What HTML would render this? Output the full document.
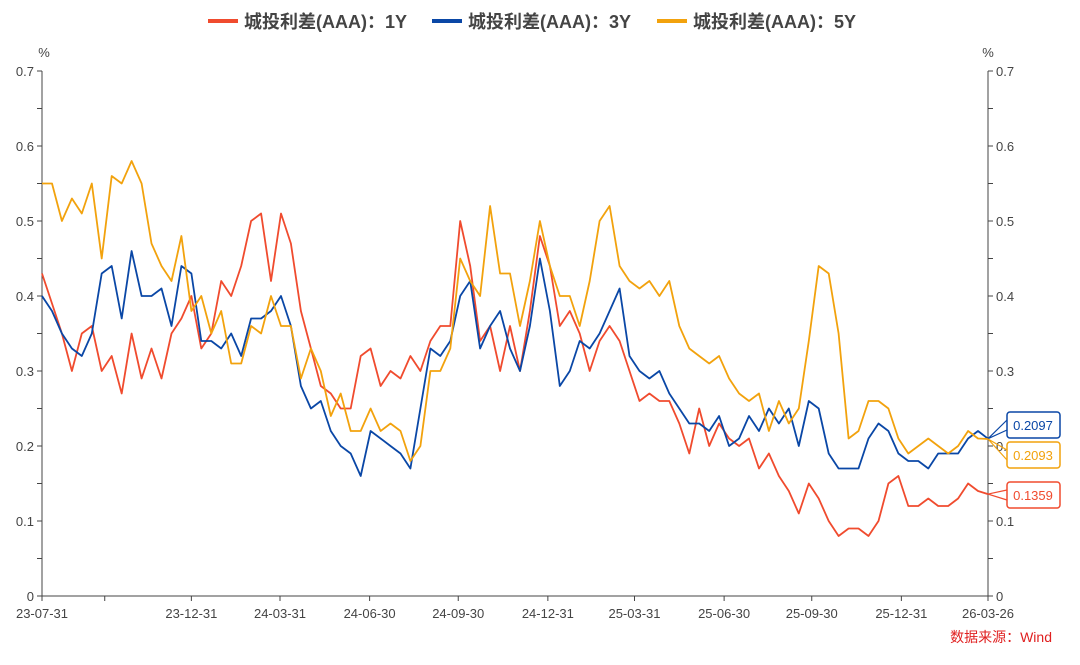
<!DOCTYPE html>
<html><head><meta charset="utf-8"><style>
body{margin:0;background:#fff;}
svg text{font-family:"Liberation Sans","Noto Sans CJK SC",sans-serif;}
</style></head><body>
<svg id="chart" width="1080" height="660" xmlns="http://www.w3.org/2000/svg">
<g id="legend"></g>
<g id="axes"></g>
<g id="series"></g>
<g id="callouts"></g>
<text x="1052" y="642" text-anchor="end" font-size="14" fill="#e02020">数据来源：Wind</text>
</svg>
<script>
const seriesNames=["城投利差(AAA)：1Y","城投利差(AAA)：3Y","城投利差(AAA)：5Y"];
const lastLabels=["0.1359","0.2097","0.2093"];
const xTickLabels=["23-07-31","23-12-31","24-03-31","24-06-30","24-09-30","24-12-31","25-03-31","25-06-30","25-09-30","25-12-31","26-03-26"];
const xTickIdx=[0,15,23.9,32.9,41.8,50.8,59.5,68.5,77.3,86.3,95];
const yTicks=[0,0.1,0.2,0.3,0.4,0.5,0.6,0.7];
const s1Y=[0.43,0.39,0.35,0.30,0.35,0.36,0.30,0.32,0.27,0.35,0.29,0.33,0.29,0.35,0.37,0.40,0.33,0.35,0.42,0.40,0.44,0.50,0.51,0.42,0.51,0.47,0.38,0.33,0.28,0.27,0.25,0.25,0.32,0.33,0.28,0.30,0.29,0.32,0.30,0.34,0.36,0.36,0.50,0.44,0.34,0.36,0.30,0.36,0.30,0.38,0.48,0.44,0.36,0.38,0.35,0.30,0.34,0.36,0.34,0.30,0.26,0.27,0.26,0.26,0.23,0.19,0.25,0.20,0.23,0.21,0.20,0.21,0.17,0.19,0.16,0.14,0.11,0.15,0.13,0.10,0.08,0.09,0.09,0.08,0.10,0.15,0.16,0.12,0.12,0.13,0.12,0.12,0.13,0.15,0.14,0.1359];
const s3Y=[0.40,0.38,0.35,0.33,0.32,0.35,0.43,0.44,0.37,0.46,0.40,0.40,0.41,0.36,0.44,0.43,0.34,0.34,0.33,0.35,0.32,0.37,0.37,0.38,0.40,0.36,0.28,0.25,0.26,0.22,0.20,0.19,0.16,0.22,0.21,0.20,0.19,0.17,0.25,0.33,0.32,0.34,0.40,0.42,0.33,0.36,0.38,0.33,0.30,0.36,0.45,0.38,0.28,0.30,0.34,0.33,0.35,0.38,0.41,0.32,0.30,0.29,0.30,0.27,0.25,0.23,0.23,0.22,0.24,0.20,0.21,0.24,0.22,0.25,0.23,0.25,0.20,0.26,0.25,0.19,0.17,0.17,0.17,0.21,0.23,0.22,0.19,0.18,0.18,0.17,0.19,0.19,0.19,0.21,0.22,0.2097];
const s5Y=[0.55,0.55,0.50,0.53,0.51,0.55,0.45,0.56,0.55,0.58,0.55,0.47,0.44,0.42,0.48,0.38,0.40,0.35,0.38,0.31,0.31,0.36,0.35,0.40,0.36,0.36,0.29,0.33,0.30,0.24,0.27,0.22,0.22,0.25,0.22,0.23,0.22,0.18,0.20,0.30,0.30,0.33,0.45,0.42,0.40,0.52,0.43,0.43,0.36,0.42,0.50,0.44,0.40,0.40,0.36,0.42,0.50,0.52,0.44,0.42,0.41,0.42,0.40,0.42,0.36,0.33,0.32,0.31,0.32,0.29,0.27,0.26,0.27,0.22,0.26,0.23,0.25,0.34,0.44,0.43,0.35,0.21,0.22,0.26,0.26,0.25,0.21,0.19,0.20,0.21,0.20,0.19,0.20,0.22,0.21,0.2093];
const colors=["#f04b2e","#0a47a6","#f2a20d"];
const allSeries=[s1Y,s3Y,s5Y];
const X0=42,X1=988,Y0=596,Y1=71,YMAX=0.7;
const N=s1Y.length;
function xs(i){return X0+i*(X1-X0)/(N-1);}
function ys(v){return Y0-(v/YMAX)*(Y0-Y1);}
const NS="http://www.w3.org/2000/svg";
function mk(tag,attrs,parent,txt){const e=document.createElementNS(NS,tag);for(const k in attrs)e.setAttribute(k,attrs[k]);if(txt!==undefined)e.textContent=txt;parent.appendChild(e);return e;}
const axes=document.getElementById('axes');
let e;
e=mk('line',{x1:X0,y1:Y1,x2:X0,y2:Y0,stroke:'#444'},axes);


e=mk('line',{x1:X1,y1:Y1,x2:X1,y2:Y0,stroke:'#444'},axes);


e=mk('line',{x1:X0,y1:Y0,x2:X1,y2:Y0,stroke:'#444'},axes);


for(let k=0;k<=14;k++){const y=ys(k*0.05);
 mk('line',{x1:X0-5,y1:y,x2:X0,y2:y,stroke:'#444'},axes);
 mk('line',{x1:X1,y1:y,x2:X1+5,y2:y,stroke:'#444'},axes);}
yTicks.forEach(v=>{const y=ys(v);
 e=mk('text',{x:X0-8,y:y+5,'text-anchor':'end','font-size':13,fill:'#444'},axes,String(v));
 
 
 e=mk('text',{x:X1+8,y:y+5,'font-size':13,fill:'#444'},axes,String(v));
 
 });
mk('text',{x:44,y:57,'text-anchor':'middle','font-size':13,fill:'#444'},axes,'%');
mk('text',{x:988,y:57,'text-anchor':'middle','font-size':13,fill:'#444'},axes,'%');
[6.3].forEach(i=>mk('line',{x1:xs(i),y1:Y0,x2:xs(i),y2:Y0+5,stroke:'#444'},axes));
xTickLabels.forEach((t,j)=>{const x=xs(xTickIdx[j]);
 mk('line',{x1:x,y1:Y0,x2:x,y2:Y0+5,stroke:'#444'},axes);
 e=mk('text',{x:x,y:618,'text-anchor':'middle','font-size':13,fill:'#444'},axes,t);
 
 });
const sg=document.getElementById('series');
allSeries.forEach((s,k)=>{
 const d=s.map((v,i)=>(i?'L':'M')+xs(i).toFixed(1)+','+ys(v).toFixed(1)).join('');
 e=mk('path',{d:d,fill:'none',stroke:colors[k],'stroke-width':1.8,'stroke-linejoin':'round'},sg);
 
 });
const cg=document.getElementById('callouts');
const boxY=[482,412,442];
[1,2,0].forEach(k=>{const v=allSeries[k][N-1];const y=ys(v);const by=boxY[k];
 mk('path',{d:`M1007,${by+8}L${X1},${y}L1007,${by+18}`,fill:'none',stroke:colors[k],'stroke-width':1.2},cg);
 e=mk('rect',{x:1007,y:by,width:53,height:26,rx:3,fill:'#fff',stroke:colors[k],'stroke-width':1.5},cg);
 
 
 mk('text',{x:1033,y:by+18,'text-anchor':'middle','font-size':13,fill:colors[k]},cg,lastLabels[k]);});
const lg=document.getElementById('legend');
const lx=[208,432,657];
seriesNames.forEach((n,k)=>{
 const g=mk('g',{},lg);
 
 
 mk('line',{x1:lx[k],y1:21,x2:lx[k]+30,y2:21,stroke:colors[k],'stroke-width':4},g);
 mk('text',{x:lx[k]+36,y:28,'font-size':18,'font-weight':'bold',fill:'#444'},g,n);});
</script>
</body></html>
